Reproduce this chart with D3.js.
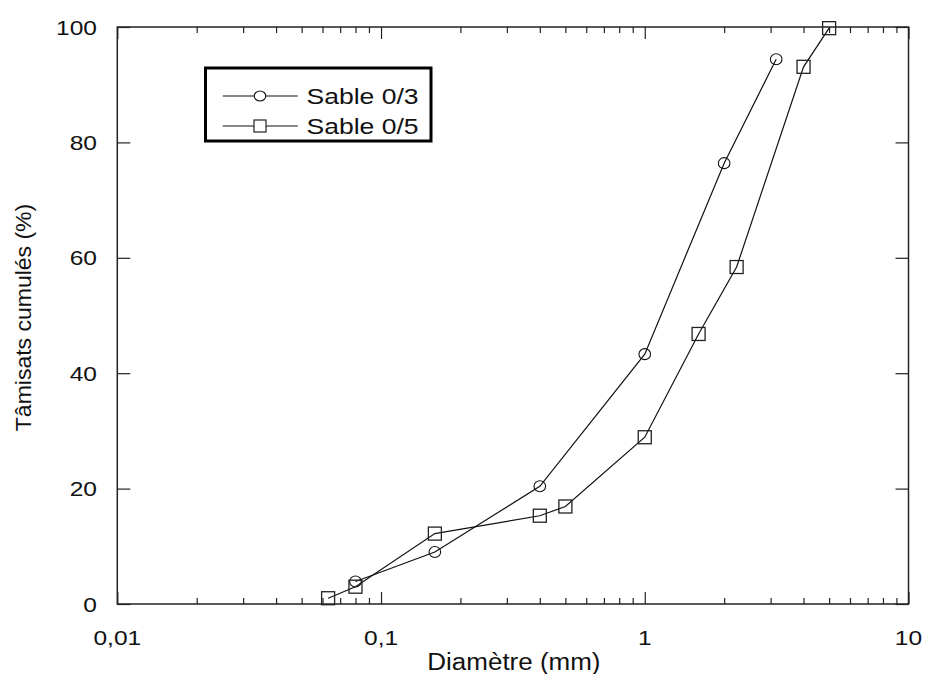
<!DOCTYPE html>
<html><head><meta charset="utf-8">
<script src="https://cdn.jsdelivr.net/npm/d3@7/dist/d3.min.js"></script>
<style>body{margin:0;background:#fff}svg{display:block}text{font-family:"Liberation Sans",Arial,sans-serif;fill:#111}</style>
</head><body>
<svg id="c" width="927" height="674"></svg>
<script>
const sable03X = [0.08, 0.16, 0.4, 1, 2, 3.15];
const sable03Y = [3.9, 9.0, 20.4, 43.3, 76.4, 94.4];
const sable05X = [0.063, 0.08, 0.16, 0.4, 0.5, 1, 1.6, 2.23, 4, 5];
const sable05Y = [1.0, 3.0, 12.2, 15.3, 16.9, 28.9, 46.8, 58.4, 93.1, 99.8];
const xTickVals = [0.01, 0.1, 1, 10];
const xTickLabels = ["0,01", "0,1", "1", "10"];
const yTickVals = [0, 20, 40, 60, 80, 100];
const seriesNames = ["Sable 0/3", "Sable 0/5"];

const svg = d3.select("#c");
const L = 117.3, R = 908.5, T = 27, B = 604;
const x = d3.scaleLog().domain([0.01, 10]).range([L, R]);
const y = d3.scaleLinear().domain([0, 100]).range([B, T]);

const minor = [];
for (let d = 0.01; d < 10; d *= 10) for (let k = 2; k <= 9; k++) minor.push(+(d * k).toPrecision(3));

const g = svg.append("g");
g.append("rect").attr("x", L).attr("y", T).attr("width", R - L).attr("height", B - T)
  .attr("fill", "none").attr("stroke", "#222").attr("stroke-width", 1.5);

function tickStyle(sel){ sel.select(".domain").remove(); sel.selectAll("line").attr("stroke","#222").attr("stroke-width",1.2); sel.selectAll("text").remove(); }
g.append("g").attr("transform", `translate(0,${B})`).call(d3.axisBottom(x).tickValues(xTickVals).tickSizeInner(-12).tickSizeOuter(0)).call(tickStyle);
g.append("g").attr("transform", `translate(0,${B})`).call(d3.axisBottom(x).tickValues(minor).tickSizeInner(-6).tickSizeOuter(0)).call(tickStyle);
g.append("g").attr("transform", `translate(0,${T})`).call(d3.axisTop(x).tickValues(xTickVals).tickSizeInner(-12).tickSizeOuter(0)).call(tickStyle);
g.append("g").attr("transform", `translate(0,${T})`).call(d3.axisTop(x).tickValues(minor).tickSizeInner(-6).tickSizeOuter(0)).call(tickStyle);
g.append("g").attr("transform", `translate(${L},0)`).call(d3.axisLeft(y).tickValues(yTickVals).tickSizeInner(-13).tickSizeOuter(0)).call(tickStyle);
g.append("g").attr("transform", `translate(${R},0)`).call(d3.axisRight(y).tickValues(yTickVals).tickSizeInner(-13).tickSizeOuter(0)).call(tickStyle);

const sx = 1.17;
g.selectAll(".xl").data(xTickVals).join("text")
  .attr("transform", d => `translate(${x(d)},645) scale(${sx},1)`)
  .attr("text-anchor", "middle").attr("font-size", 21).text((d, i) => xTickLabels[i]);
g.selectAll(".yl").data(yTickVals).join("text")
  .attr("transform", d => `translate(97,${y(d) + 7.6}) scale(${sx},1)`)
  .attr("text-anchor", "end").attr("font-size", 21).text(d => d);

svg.append("text").attr("transform", `translate(${(L + R) / 2 + 1},670) scale(1.13,1)`).attr("text-anchor", "middle")
  .attr("font-size", 23).text("Diamètre (mm)");
svg.append("text").attr("transform", `translate(31,${(T + B) / 2 + 2}) rotate(-90) scale(1.07,1)`).attr("text-anchor", "middle")
  .attr("font-size", 21.5).text("Tâmisats cumulés (%)");

const line = d3.line().x(d => x(d[0])).y(d => y(d[1]));
const s1 = sable03X.map((v, i) => [v, sable03Y[i]]);
const s2 = sable05X.map((v, i) => [v, sable05Y[i]]);

svg.append("path").attr("d", line(s1)).attr("fill", "none").attr("stroke", "#111").attr("stroke-width", 1.2);
svg.append("path").attr("d", line(s2)).attr("fill", "none").attr("stroke", "#111").attr("stroke-width", 1.2);

svg.selectAll(".c").data(s1).join("ellipse").attr("cx", d => x(d[0])).attr("cy", d => y(d[1]))
  .attr("rx", 5.8).attr("ry", 5.5).attr("fill", "none").attr("stroke", "#111").attr("stroke-width", 1.1);
const sq = 13;
svg.selectAll(".s").data(s2).join("rect").attr("x", d => x(d[0]) - sq / 2).attr("y", d => y(d[1]) - sq / 2)
  .attr("width", sq).attr("height", sq).attr("fill", "none").attr("stroke", "#222").attr("stroke-width", 1.3);

const lg = svg.append("g");
lg.append("rect").attr("x", 205.5).attr("y", 68).attr("width", 225.5).attr("height", 73)
  .attr("fill", "#fff").attr("stroke", "#000").attr("stroke-width", 3);
const rows = [96, 126];
seriesNames.forEach((name, i) => {
  lg.append("line").attr("x1", 222.7).attr("x2", 297.7).attr("y1", rows[i]).attr("y2", rows[i]).attr("stroke", "#111").attr("stroke-width", 1.1);
  if (i === 0) lg.append("ellipse").attr("cx", 260).attr("cy", rows[i]).attr("rx", 5.8).attr("ry", 5).attr("fill", "#fff").attr("stroke", "#111").attr("stroke-width", 1.1);
  else lg.append("rect").attr("x", 260 - 6).attr("y", rows[i] - 6).attr("width", 12).attr("height", 12).attr("fill", "#fff").attr("stroke", "#222").attr("stroke-width", 1.2);
  lg.append("text").attr("transform", `translate(306.5,${rows[i] + 8}) scale(1.18,1)`).attr("font-size", 22.5).text(name);
});
</script>
</body></html>
